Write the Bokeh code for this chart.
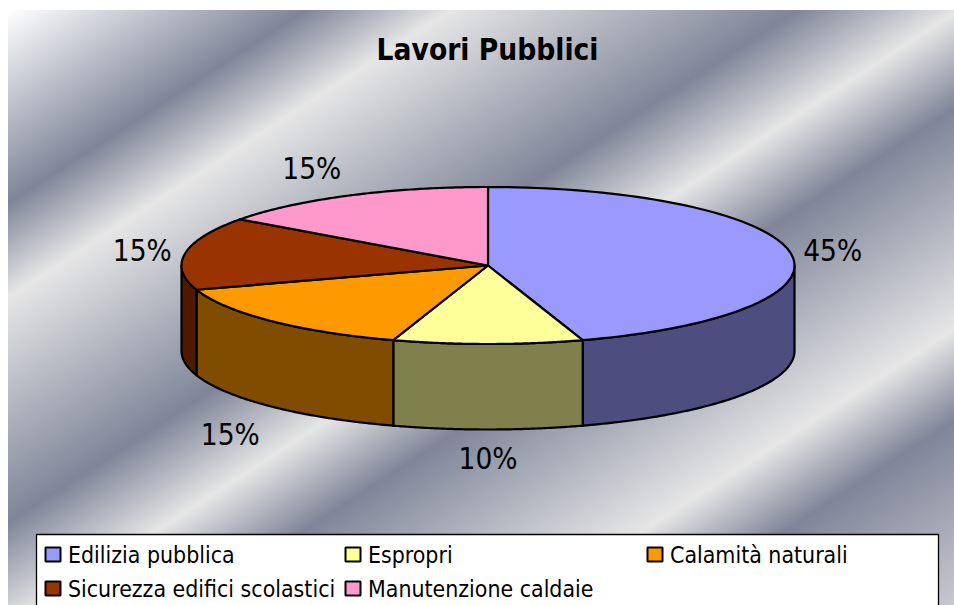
import numpy as np
from bokeh.core.properties import value
from bokeh.embed import file_html
from bokeh.models import Range1d
from bokeh.plotting import figure
from bokeh.resources import INLINE

# ---- data ----
title = "Lavori Pubblici"
categories = ["Edilizia pubblica", "Espropri", "Calamità naturali",
              "Sicurezza edifici scolastici", "Manutenzione caldaie"]
shares = [45, 10, 15, 15, 15]

# ---- styles ----
top_colors = ["#9999ff", "#ffff99", "#ff9900", "#993300", "#ff99cc"]
side_colors = ["#4d4d80", "#80804d", "#804d00", "#4d1a00", "#804d66"]
FONT = "DejaVu Sans Condensed"

# ---- layout (screen pixels) ----
CX, CY, RX, RY, DEPTH = 487.5, 265.0, 306.5, 78.5, 85.5
label_dx = [42, 0, -41, -43, -37]
label_dy = [-2, 29, 28, -2, -27]
legend_swatch_x = [45, 345, 647, 45, 345]
legend_row_y = [554, 554, 554, 588, 588]

# Metallic background stops: (distance along the gradient in px, colour)
stops = [(0, "#ffffff"), (162, "#7f8599"), (241, "#e6e6e6"), (430, "#7f8599"),
         (518, "#e6e6e6"), (598, "#7f8599"), (783, "#e6e6e6"), (860, "#7f8599"),
         (1014, "#c8c8d0")]
gradient = "linear-gradient(147deg, " + ", ".join(f"{c} {d}px" for d, c in stops) + ")"

p = figure(width=954, height=605, output_backend="svg", toolbar_location=None,
           x_range=Range1d(0, 954), y_range=Range1d(605, 0), min_border=0,
           x_axis_location=None, y_axis_location=None,
           background_fill_color=None, border_fill_color=None, outline_line_color=None,
           styles={"background": gradient + " 8px 10px / 946px 595px no-repeat"})
p.grid.visible = False


def arc(a0, a1, dy=0.0):
    a = np.radians(np.linspace(a0, a1, 90))
    return CX + RX * np.sin(a), CY - RY * np.cos(a) + dy


edges = np.concatenate([[0], np.cumsum(shares)]) * 360.0 / sum(shares)

# Side wall: only the front half of the rim (90 to 270 degrees) is visible
for a0, a1, col in zip(edges[:-1], edges[1:], side_colors):
    lo, hi = max(a0, 90), min(a1, 270)
    if hi <= lo:
        continue
    xt, yt = arc(lo, hi)
    xb, yb = arc(hi, lo, DEPTH)
    p.patch(np.r_[xt, xb], np.r_[yt, yb], fill_color=col, line_color="black",
            line_width=2.2, line_join="round")

# Top face
for a0, a1, col in zip(edges[:-1], edges[1:], top_colors):
    xa, ya = arc(a0, a1)
    p.patch(np.r_[CX, xa], np.r_[CY, ya], fill_color=col, line_color="black",
            line_width=2.2, line_join="round")

# Percentage labels, placed off each slice's mid-angle rim point
mids = (edges[:-1] + edges[1:]) / 2
for m, s, dx, dy in zip(mids, shares, label_dx, label_dy):
    r = np.radians(m)
    x = CX + RX * np.sin(r) + dx
    y = CY - RY * np.cos(r) + dy + (DEPTH if np.cos(r) < -0.5 else 0)
    p.text([x], [y], text=[f"{s}%"], text_font=value(FONT), text_font_size="29.5px",
           text_color="black", text_align="center", text_baseline="middle")

# Title
p.text([487], [49], text=[title], text_font=value(FONT), text_font_size="29.6px",
       text_font_style="bold", text_color="black", text_align="center",
       text_baseline="middle")

# Legend box (runs off the bottom of the page)
p.quad(left=[36], right=[938], top=[534], bottom=[640], fill_color="white",
       line_color="black", line_width=1.3)
for name, col, sx, ry in zip(categories, top_colors, legend_swatch_x, legend_row_y):
    p.quad(left=[sx], right=[sx + 15], top=[ry - 7], bottom=[ry + 7], fill_color=col,
           line_color="black", line_width=2)
    p.text([sx + 22.5], [ry], text=[name], text_font=value(FONT), text_font_size="22.9px",
           text_color="black", text_align="left", text_baseline="middle")

open("out.html", "w").write(file_html(p, INLINE))
